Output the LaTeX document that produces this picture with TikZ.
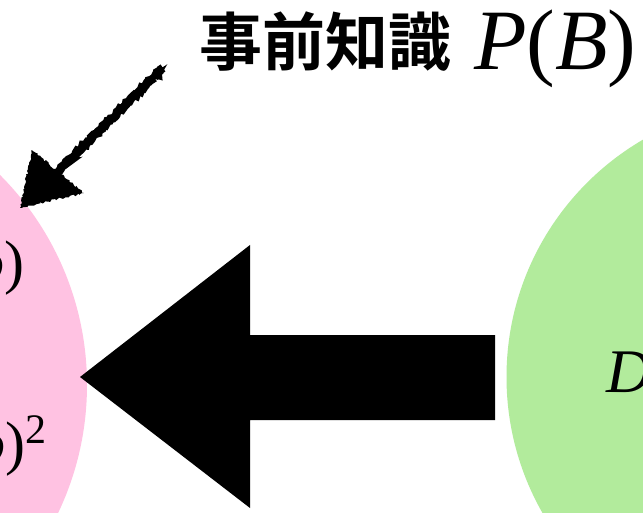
\documentclass[tikz,border=0pt]{standalone}
\usepackage{fontspec}
\setmainfont{Liberation Serif}
\newfontfamily\cjk{Noto Sans CJK JP}[BoldFont={Noto Sans CJK JP Bold}]
\usetikzlibrary{decorations.pathmorphing}
\definecolor{pinkc}{RGB}{255,194,226}
\definecolor{greenc}{RGB}{178,235,156}
\tikzset{
  blob/.style={circle, inner sep=0pt, draw=none},
  lbl/.style={inner sep=0pt, outer sep=0pt},
  sketchy/.style={line width=8.5pt, decorate, decoration={random steps, segment length=2pt, amplitude=1.2pt}},
}
\begin{document}
\begin{tikzpicture}[x=1pt,y=-1pt]
\useasboundingbox (0,0) rectangle (643,513);
\clip (0,0) rectangle (643,513);
\fill[white] (0,0) rectangle (643,513);
% circles
\node[blob, fill=pinkc, minimum size=594pt] (pinkcircle) at (-210,385) {};
\node[blob, fill=greenc, minimum size=549pt] (greencircle) at (781,377) {};
% texts inside circles
\node[lbl, anchor=base east] (t1) at (24,283) {\fontsize{60}{60}\selectfont\textit{o})};
\node[lbl, anchor=base east] (t2) at (46,463) {\fontsize{60}{60}\selectfont\textit{o})\raisebox{20pt}{\fontsize{42}{42}\selectfont 2}};
\node[lbl, anchor=base west] (dtext) at (606,392) {\fontsize{62}{62}\selectfont\textit{D}};
% title
\node[lbl, anchor=base west] (title) at (199,66) {\fontsize{63}{63}\selectfont\cjk\bfseries 事前知識};
\node[lbl, anchor=base west] (pb) at (474,70) {\fontsize{86}{86}\selectfont\textit{P}(\textit{B})};
% big arrow
\coordinate (tip) at (80,377);
\fill[black] (tip) -- (250,245) -- (250,335) -- (495,335) -- (495,420) -- (250,420) -- (250,508) -- cycle;
% sketchy arrow
\coordinate (sstart) at (163,68);
\coordinate (sbase) at (56,173);
\coordinate (stip) at (20,208);
\draw[sketchy] (sstart) -- (sbase);
\fill[black, decorate, decoration={random steps, segment length=2pt, amplitude=1.2pt}] (stip) -- (32,150) -- (84,193) -- cycle;
\end{tikzpicture}
\end{document}
